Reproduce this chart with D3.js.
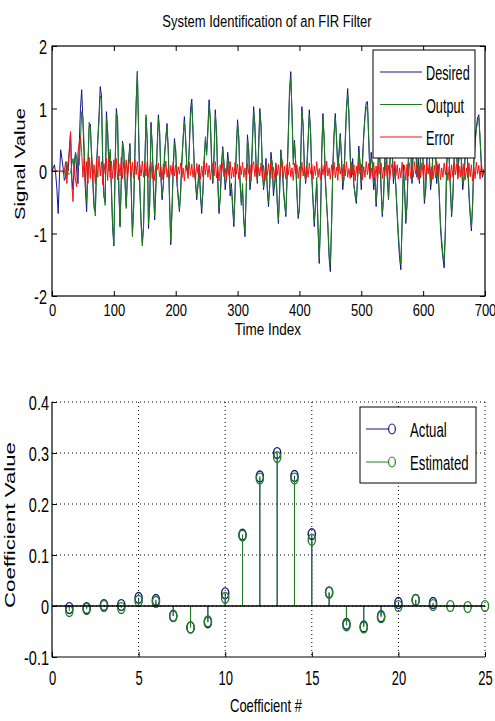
<!DOCTYPE html>
<html>
<head>
<meta charset="utf-8">
<script src="https://cdn.jsdelivr.net/npm/d3@7/dist/d3.min.js"></script>
<style>
  html, body { margin: 0; padding: 0; background: #fff; }
  svg { display: block; }
  text { font-family: "Liberation Sans", Arial, Helvetica, sans-serif; fill: #000; }
</style>
</head>
<body>
<svg id="chart" width="495" height="721"></svg>
<script>
// ---------------- DATA ----------------
const chartTitle = "System Identification of an FIR Filter";
const sampleStep = 2; // one stored value every 2 time samples
const seriesNames = ["Desired", "Output", "Error"];

const desired = [
  0,0.05,0.1,-0.05,-0.3,-0.68,-0.1,0.34,0.2,0.05,-0.15,-0.1,0.1,0,0.3,0.6,-0.1,-0.3,0.1,0.3,0,-0.2,0.4,1.0,1.3,
  0.8,0.2,-0.3,-0.65,0.1,0.7,0.75,0.2,-0.2,-0.6,-0.65,0.1,0.5,0.9,1.35,1.2,0.1,-0.42,-0.5,0.95,0.6,0.1,0.3,-0.3,-0.9,
  -1.2,0.1,1.0,0.8,-0.3,-0.88,-0.2,0.48,0.3,-0.2,-0.57,-0.1,0.2,0.44,-0.3,-1.0,-0.6,0.3,1.1,1.58,0.6,-0.3,-0.8,-1.15,-0.9,
  0.1,0.85,0.5,-0.92,-0.5,0.78,0.4,-0.3,-0.78,-0.2,0.4,0.9,0.6,-0.1,-0.46,-0.2,0.3,0.5,0.76,0.3,-0.5,-1.18,-0.6,0.1,0.52,
  0.3,-0.2,-0.4,-0.65,-0.3,0.2,0.5,0.87,0.5,0.1,-0.06,0.4,1.0,1.15,0.6,0.1,-0.2,-0.46,-0.2,0.1,-0.4,-0.68,-0.3,0.2,0.5,
  0.3,0.7,1.14,0.8,0.2,-0.2,0.3,0.98,0.6,-0.2,-0.68,-0.4,0.1,0.39,0.1,-0.3,-0.1,0.3,0.1,-0.4,-0.2,-0.6,-0.89,-0.3,0.4,
  0.82,0.5,-0.2,-0.5,-0.3,-0.8,-1.05,-0.3,0.58,0.3,-0.3,-0.1,0.5,1.03,0.7,0.1,-0.2,0.4,1.0,0.7,0.1,-0.3,-0.1,0.2,-0.3,
  -0.57,-0.2,0.3,0.1,-0.4,-0.2,0.1,-0.5,-0.84,-0.3,0.34,0.1,-0.3,-0.5,-0.73,-0.1,0.6,1.3,1.59,0.9,0.2,0.49,0.1,-0.4,-0.76,
  -0.6,0.2,1.03,0.7,0.1,-0.2,0.1,0.5,0.98,0.6,-0.1,-0.5,-0.89,-0.5,-0.2,-0.9,-1.48,-0.8,0.3,0.92,0.5,-0.2,-0.5,-0.9,-1.4,
  -1.61,-0.8,0.1,0.6,0.92,0.5,0.1,0.3,0.6,0.2,-0.3,-0.1,0.5,1.0,1.32,0.9,0.3,-0.1,0.2,-0.2,-0.4,-0.52,-0.1,0.4,0.1,
  -0.3,0.2,0.6,0.9,1.1,1.11,0.5,-0.1,0.3,0.1,-0.3,-0.1,-0.57,-0.2,0.4,0.2,-0.3,-0.73,-0.4,0.2,0.5,-0.1,-0.46,0.1,0.6,
  0.3,-0.2,0.1,-0.3,-0.7,-1.1,-1.4,-1.58,-0.8,0.1,-0.3,-0.84,-0.5,0.2,0.6,0.3,-0.2,0.4,0.8,0.4,-0.1,0.2,-0.2,0.3,0.6,
  0.1,-0.52,-0.3,0.2,0.5,0.2,-0.3,-0.1,0.4,0.7,0.3,-0.2,0.1,-0.4,-0.9,-1.2,-1.4,-1.55,-0.9,0.1,0.5,0.2,-0.3,-0.73,-0.4,
  0.2,0.6,0.3,-0.1,0.3,0.5,0.1,-0.3,-0.1,0.3,0.5,0.1,-0.4,-0.7,-0.96,-0.5,0.2,0.5,0.7,0.85,0.9,0.5,0.1,-0.1,0.0
];

const output = [
  0,0,0,0,0,0,0,0,0,0,0,-0.1,0.15,-0.05,-0.05,-0.03,0.1,0.2,0.0,0.3,0.2,0.05,0.1,0.5,0.95,
  0.85,0.4,-0.1,-0.5,-0.1,0.78,0.7,0.3,-0.1,-0.5,-0.72,0.0,0.45,0.8,1.2,1.15,0.2,-0.35,-0.55,0.85,0.65,0.0,0.35,-0.2,-0.85,
  -1.18,0.0,0.92,0.85,-0.2,-0.9,-0.1,0.45,0.35,-0.1,-0.6,0.0,0.15,0.4,-0.2,-1.05,-0.55,0.2,1.05,1.6,0.7,-0.2,-0.85,-1.2,-0.85,
  0.0,0.9,0.45,-0.85,-0.55,0.7,0.45,-0.2,-0.72,-0.3,0.35,0.85,0.65,0.0,-0.4,-0.25,0.2,0.55,0.7,0.35,-0.4,-1.12,-0.65,0.0,0.45,
  0.35,-0.1,-0.45,-0.6,-0.35,0.1,0.55,0.8,0.55,0.0,0.0,0.35,0.9,1.05,0.65,0.0,-0.15,-0.4,-0.25,0.0,-0.35,-0.6,-0.35,0.1,0.55,
  0.25,0.6,1.05,0.85,0.1,-0.15,0.2,0.9,0.65,-0.1,-0.6,-0.45,0.0,0.35,0.15,-0.2,-0.15,0.2,0.15,-0.3,-0.25,-0.5,-0.82,-0.35,0.3,
  0.75,0.55,-0.1,-0.55,-0.2,-0.75,-0.98,-0.35,0.5,0.35,-0.2,-0.15,0.4,0.95,0.75,0.0,-0.15,0.3,0.92,0.75,0.0,-0.25,-0.15,0.1,-0.25,
  -0.5,-0.25,0.2,0.15,-0.3,-0.25,0.0,-0.45,-0.78,-0.35,0.3,0.15,-0.2,-0.55,-0.68,-0.15,0.5,1.2,1.5,0.95,0.1,0.45,0.15,-0.3,-0.7,
  -0.65,0.1,0.95,0.75,0.0,-0.15,0.0,0.45,0.9,0.65,-0.05,-0.45,-0.82,-0.55,-0.1,-0.85,-1.4,-0.85,0.2,0.85,0.55,-0.1,-0.55,-0.85,-1.32,
  -1.5,-0.85,0.0,0.55,0.85,0.55,0.0,0.25,0.55,0.25,-0.2,-0.15,0.4,0.95,1.22,0.95,0.2,-0.05,0.1,-0.25,-0.35,-0.48,-0.15,0.3,0.15,
  -0.2,0.1,0.55,0.85,1.0,1.05,0.55,0.0,0.2,0.15,-0.2,-0.15,-0.5,-0.25,0.3,0.25,-0.2,-0.68,-0.45,0.1,0.45,0.0,-0.45,0.0,0.55,
  0.35,-0.1,0.0,-0.25,-0.65,-1.0,-1.3,-1.48,-0.85,0.0,-0.25,-0.78,-0.55,0.1,0.55,0.35,-0.1,0.3,0.75,0.45,0.0,0.1,-0.15,0.2,0.55,
  0.15,-0.45,-0.35,0.1,0.45,0.25,-0.2,-0.15,0.3,0.65,0.35,-0.1,0.0,-0.35,-0.82,-1.1,-1.32,-1.45,-0.95,0.0,0.45,0.25,-0.2,-0.68,-0.45,
  0.1,0.55,0.35,0.0,0.2,0.45,0.15,-0.2,-0.15,0.2,0.45,0.15,-0.3,-0.65,-0.9,-0.55,0.1,0.45,0.65,0.8,0.85,0.55,0.15,-0.05,0.0
];

const errorSig = [
  0,0.01,-0.01,0.02,0,-0.01,0.01,0,-0.02,0.01,0,0.15,-0.2,0.1,0.35,0.63,-0.2,-0.49,0.1,-0.15,-0.25,0.3,0.45,0.55,0.3,
  -0.1,0.2,-0.25,0.15,-0.2,0.22,-0.12,0.25,-0.15,0.1,-0.2,0.18,-0.1,0.24,-0.08,0.15,-0.22,0.12,-0.05,0.2,-0.15,0.22,-0.1,0.16,-0.12,
  0.18,-0.1,0.2,-0.14,0.12,-0.08,0.22,-0.12,0.15,-0.05,0.18,-0.16,0.1,0.2,-0.1,0.14,-0.12,0.18,-0.06,0.15,-0.14,0.1,-0.08,0.16,-0.1,
  0.12,-0.08,0.15,-0.1,0.05,0.14,-0.12,0.08,-0.15,0.1,0.02,0.13,-0.09,0.06,-0.14,0.11,-0.05,0.16,-0.1,0.04,-0.13,0.09,-0.06,0.15,-0.08,
  0.1,-0.14,0.07,-0.05,0.13,-0.11,0.05,-0.16,0.09,0.02,-0.12,0.14,-0.07,0.11,-0.1,0.06,-0.15,0.12,-0.04,0.1,-0.13,0.08,-0.09,0.16,-0.06,
  0.13,-0.1,0.09,-0.14,0.05,0.12,-0.08,0.15,-0.11,0.07,-0.16,0.1,-0.05,0.13,-0.09,0.04,-0.14,0.11,-0.07,0.15,-0.12,0.06,-0.1,0.14,-0.05,
  0.11,-0.13,0.08,-0.06,0.14,-0.1,0.05,-0.15,0.12,-0.04,0.1,-0.12,0.07,0.15,-0.09,0.11,-0.14,0.06,-0.08,0.13,-0.11,0.09,-0.16,0.05,-0.07,
  0.12,-0.09,0.15,-0.12,0.06,-0.1,0.13,-0.07,0.1,-0.14,0.04,0.16,-0.1,0.08,-0.13,0.11,-0.06,0.14,-0.09,0.05,-0.15,0.12,-0.04,0.1,-0.12,
  0.07,-0.11,0.14,-0.08,0.1,-0.16,0.06,-0.1,0.13,-0.05,0.11,-0.13,0.08,-0.07,0.15,-0.1,0.04,-0.14,0.12,-0.06,0.09,-0.12,0.16,-0.08,0.05,
  -0.13,0.1,-0.07,0.14,-0.11,0.06,-0.15,0.12,-0.05,0.09,-0.13,0.11,-0.08,0.15,-0.1,0.04,-0.12,0.14,-0.06,0.1,-0.16,0.08,-0.09,0.13,-0.05,
  0.11,-0.14,0.07,-0.1,0.15,-0.06,0.12,-0.13,0.05,-0.09,0.14,-0.11,0.08,-0.16,0.1,-0.05,0.13,-0.12,0.06,-0.08,0.15,-0.1,0.09,-0.14,0.04,
  0.12,-0.1,0.16,-0.07,0.1,-0.13,0.05,-0.11,0.14,-0.06,0.09,-0.15,0.11,-0.08,0.13,-0.12,0.06,-0.1,0.15,-0.05,0.1,-0.14,0.08,-0.11,0.13,
  -0.07,0.1,-0.16,0.12,-0.05,0.14,-0.1,0.06,-0.13,0.09,-0.11,0.15,-0.08,0.12,-0.14,0.05,-0.1,0.13,-0.06,0.11,-0.15,0.07,-0.12,0.1,-0.09,
  0.14,-0.06,0.11,-0.13,0.08,-0.1,0.15,-0.07,0.12,-0.14,0.05,-0.11,0.13,-0.09,0.1,-0.16,0.06,-0.12,0.14,-0.05,0.09,-0.13,0.11,-0.08,0.03
];

const timeTicks = [0,100,200,300,400,500,600,700];
const signalTicks = [-2,-1,0,1,2];

const coefIndex = d3.range(1, 26);
const actualCoef = [-0.004,-0.004,0.002,0.002,0.016,0.012,-0.019,-0.042,-0.032,0.025,0.14,0.254,0.3,0.255,0.141,0.027,-0.035,-0.04,-0.02,0.006,0.012,0.006];
const estimatedCoef = [-0.01,-0.006,0.0,-0.004,0.01,0.008,-0.02,-0.042,-0.03,0.016,0.138,0.25,0.292,0.25,0.13,0.026,-0.038,-0.042,-0.022,0.0,0.012,0.002,0.0,-0.002,0.0];
const coefXTicks = [0,5,10,15,20,25];
const coefYTicks = [-0.1,0,0.1,0.2,0.3,0.4];
const stemNames = ["Actual", "Estimated"];

// ---------------- STYLE ----------------
const colDesired = "#14148e";
const colOutput = "#1f7d1f";
const colError = "#f01414";
const colActual = "#14147e";
const colEstimated = "#1f801f";
const fontFam = '"Liberation Sans", Arial, sans-serif';

const svg = d3.select("#chart");

function stxt(g, x, y, str, size, sy, anchor) {
  return g.append("text")
    .attr("transform", `translate(${x},${y}) scale(1,${sy})`)
    .attr("text-anchor", anchor || "middle")
    .style("font-size", size + "px")
    .text(str);
}

function styleAxis(g) {
  g.select(".domain").remove();
  g.selectAll(".tick line").attr("stroke", "#000").attr("stroke-width", 1);
}
const plainFmt = d => String(d);

// ---------------- TOP PLOT ----------------
const T = { left: 52, right: 485, top: 46, bottom: 296 };
const xT = d3.scaleLinear().domain([0, 700]).range([T.left, T.right]);
const yT = d3.scaleLinear().domain([-2, 2]).range([T.bottom, T.top]);

stxt(svg, 267, 27, chartTitle, 13, 1.3, "middle");

const topPlot = svg.append("g");

const sigLine = d3.line()
  .x((d, i) => xT(i * sampleStep))
  .y(d => yT(d));

topPlot.append("path").datum(desired).attr("d", sigLine)
  .attr("fill", "none").attr("stroke", colDesired).attr("stroke-width", 1);
topPlot.append("path").datum(output).attr("d", sigLine)
  .attr("fill", "none").attr("stroke", colOutput).attr("stroke-width", 1);
topPlot.append("path").datum(errorSig).attr("d", sigLine)
  .attr("fill", "none").attr("stroke", colError).attr("stroke-width", 1);

// axes
const axB = topPlot.append("g").attr("transform", `translate(0,${T.bottom})`)
  .call(d3.axisBottom(xT).tickValues(timeTicks).tickSize(-5).tickSizeOuter(0).tickFormat(plainFmt));
styleAxis(axB);
axB.selectAll(".tick text").attr("y", null).attr("dy", null)
  .attr("transform", "translate(0,20) scale(1,1.3)").style("font-size", "13px")
  .style("font-family", fontFam);

const axTop = topPlot.append("g").attr("transform", `translate(0,${T.top})`)
  .call(d3.axisTop(xT).tickValues(timeTicks).tickSize(-5).tickSizeOuter(0).tickFormat(""));
styleAxis(axTop);

const axL = topPlot.append("g").attr("transform", `translate(${T.left},0)`)
  .call(d3.axisLeft(yT).tickValues(signalTicks).tickSize(-5).tickSizeOuter(0).tickFormat(plainFmt));
styleAxis(axL);
axL.selectAll(".tick text").attr("x", null).attr("dy", null)
  .attr("transform", "translate(-5,7.5) scale(1,1.45)").style("font-size", "14.5px")
  .style("font-family", fontFam);

const axR = topPlot.append("g").attr("transform", `translate(${T.right},0)`)
  .call(d3.axisRight(yT).tickValues(signalTicks).tickSize(-5).tickSizeOuter(0).tickFormat(""));
styleAxis(axR);

topPlot.append("rect").attr("x", T.left).attr("y", T.top)
  .attr("width", T.right - T.left).attr("height", T.bottom - T.top)
  .attr("fill", "none").attr("stroke", "#000").attr("stroke-width", 1.2);

stxt(topPlot, 268, 335, "Time Index", 13.5, 1.2, "middle");
topPlot.append("text")
  .attr("transform", "translate(25,164) rotate(-90)")
  .attr("text-anchor", "middle")
  .attr("textLength", 112).attr("lengthAdjust", "spacingAndGlyphs")
  .style("font-size", "14px")
  .text("Signal Value");

// legend top
const lg = topPlot.append("g");
lg.append("rect").attr("x", 373).attr("y", 50).attr("width", 102).attr("height", 108)
  .attr("fill", "#fff").attr("stroke", "#000").attr("stroke-width", 1);
const lgCols = [colDesired, colOutput, colError];
const lgY = [72, 104.5, 137];
seriesNames.forEach((name, i) => {
  lg.append("line").attr("x1", 380).attr("x2", 422).attr("y1", lgY[i]).attr("y2", lgY[i])
    .attr("stroke", lgCols[i]).attr("stroke-width", 1);
  stxt(lg, 426, lgY[i] + 8, name, 12.7, 1.55, "start");
});

// ---------------- BOTTOM PLOT ----------------
const B = { left: 52, right: 485, top: 402, bottom: 657 };
const xB = d3.scaleLinear().domain([0, 25]).range([B.left, B.right]);
const yB = d3.scaleLinear().domain([-0.1, 0.4]).range([B.bottom, B.top]);
const bot = svg.append("g");

// grid (dotted)
const grid = bot.append("g").attr("stroke", "#000").attr("stroke-width", 1)
  .attr("stroke-dasharray", "1,3");
coefXTicks.filter(d => d > 0).forEach(d => {
  grid.append("line").attr("x1", xB(d)).attr("x2", xB(d)).attr("y1", B.top).attr("y2", B.bottom);
});
coefYTicks.filter(d => d > -0.1).forEach(d => {
  grid.append("line").attr("x1", B.left).attr("x2", B.right).attr("y1", yB(d)).attr("y2", yB(d));
});

// axes
const bAxB = bot.append("g").attr("transform", `translate(0,${B.bottom})`)
  .call(d3.axisBottom(xB).tickValues(coefXTicks).tickSize(-5).tickSizeOuter(0).tickFormat(plainFmt));
styleAxis(bAxB);
bAxB.selectAll(".tick text").attr("y", null).attr("dy", null)
  .attr("transform", "translate(0,28) scale(1,1.5)").style("font-size", "13px")
  .style("font-family", fontFam);
bot.append("line").attr("x1", B.left).attr("x2", B.right).attr("y1", B.bottom).attr("y2", B.bottom)
  .attr("stroke", "#000").attr("stroke-width", 1.2);

const bAxL = bot.append("g").attr("transform", `translate(${B.left},0)`)
  .call(d3.axisLeft(yB).tickValues(coefYTicks).tickSize(-5).tickSizeOuter(0)
    .tickFormat(d => (Math.abs(d) < 1e-9 ? "0" : d.toFixed(1))));
styleAxis(bAxL);
bAxL.selectAll(".tick text").attr("x", null).attr("dy", null)
  .attr("transform", "translate(-3,7.5) scale(1,1.45)").style("font-size", "14.5px")
  .style("font-family", fontFam);
bot.append("line").attr("x1", B.left).attr("x2", B.left).attr("y1", B.top).attr("y2", B.bottom)
  .attr("stroke", "#000").attr("stroke-width", 1.2);

// stems
function drawStems(vals, color) {
  bot.append("g").selectAll("line").data(vals).enter().append("line")
    .attr("x1", (d, i) => xB(coefIndex[i])).attr("x2", (d, i) => xB(coefIndex[i]))
    .attr("y1", yB(0)).attr("y2", d => yB(d))
    .attr("stroke", color).attr("stroke-width", 1);
}
function drawMarkers(vals, color) {
  bot.append("g").selectAll("ellipse").data(vals).enter().append("ellipse")
    .attr("cx", (d, i) => xB(coefIndex[i])).attr("cy", d => yB(d))
    .attr("rx", 3.6).attr("ry", 5.4)
    .attr("fill", "none").attr("stroke", color).attr("stroke-width", 1.4);
}
drawStems(actualCoef, colActual);
drawMarkers(actualCoef, colActual);
drawStems(estimatedCoef, colEstimated);
drawMarkers(estimatedCoef, colEstimated);

// baseline
bot.append("line").attr("x1", B.left).attr("x2", B.right).attr("y1", yB(0)).attr("y2", yB(0))
  .attr("stroke", "#000").attr("stroke-width", 1.3);

stxt(bot, 266, 712, "Coefficient #", 13, 1.35, "middle");
bot.append("text")
  .attr("transform", "translate(15,525) rotate(-90)")
  .attr("text-anchor", "middle")
  .attr("textLength", 166).attr("lengthAdjust", "spacingAndGlyphs")
  .style("font-size", "14px")
  .text("Coefficient Value");

// legend bottom
const lg2 = bot.append("g");
lg2.append("rect").attr("x", 360).attr("y", 407).attr("width", 116).attr("height", 76)
  .attr("fill", "#fff").attr("stroke", "#000").attr("stroke-width", 1);
const lg2Cols = [colActual, colEstimated];
const lg2Y = [429, 462];
stemNames.forEach((name, i) => {
  lg2.append("line").attr("x1", 366).attr("x2", 392).attr("y1", lg2Y[i]).attr("y2", lg2Y[i])
    .attr("stroke", lg2Cols[i]).attr("stroke-width", 1);
  lg2.append("ellipse").attr("cx", 392).attr("cy", lg2Y[i]).attr("rx", 3.4).attr("ry", 5)
    .attr("fill", "#fff").attr("stroke", lg2Cols[i]).attr("stroke-width", 1.2);
  stxt(lg2, 410, lg2Y[i] + 7.5, name, 13.2, 1.5, "start");
});
</script>
</body>
</html>
